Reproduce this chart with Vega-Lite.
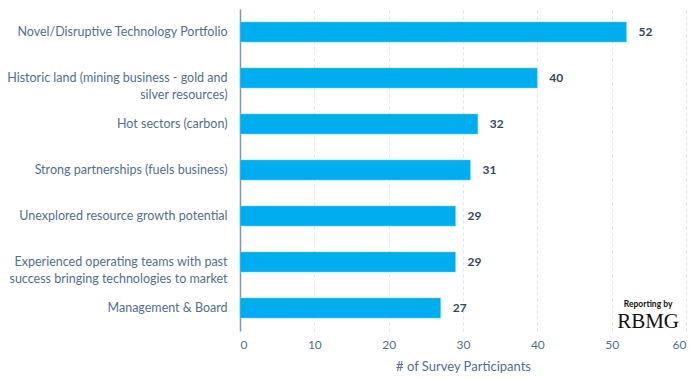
{
  "$schema": "https://vega.github.io/schema/vega-lite/v6.json",
  "width": 446,
  "height": 322,
  "padding": {"left": 6, "right": 8, "top": 9, "bottom": 5},
  "config": {"view": {"stroke": null}, "font": "Lato"},
  "data": {"values": [
    {"factor": "Novel/Disruptive Technology Portfolio", "count": 52},
    {"factor": "Historic land (mining business - gold and|silver resources)", "count": 40},
    {"factor": "Hot sectors (carbon)", "count": 32},
    {"factor": "Strong partnerships (fuels business)", "count": 31},
    {"factor": "Unexplored resource growth potential", "count": 29},
    {"factor": "Experienced operating teams with past|success bringing technologies to market", "count": 29},
    {"factor": "Management & Board", "count": 27}
  ]},
  "encoding": {
    "y": {"field": "factor", "type": "nominal",
      "sort": ["Novel/Disruptive Technology Portfolio", "Historic land (mining business - gold and|silver resources)", "Hot sectors (carbon)", "Strong partnerships (fuels business)", "Unexplored resource growth potential", "Experienced operating teams with past|success bringing technologies to market", "Management & Board"],
      "scale": {"paddingInner": 0.56, "paddingOuter": 0.28},
      "axis": {"title": null, "labelExpr": "split(datum.label, '|')", "labelFontSize": 12.5, "labelColor": "#516f90", "labelPadding": 13, "ticks": false, "domainColor": "#7c98b6", "domainWidth": 1.5, "labelLimit": 300, "labelLineHeight": 17}},
    "x": {"field": "count", "type": "quantitative",
      "scale": {"domain": [0, 60]},
      "axis": {"title": "# of Survey Participants", "titleFontSize": 13, "titleFontWeight": "normal", "titleColor": "#516f90", "titlePadding": 10, "labelFontSize": 12, "labelColor": "#516f90", "labelPadding": 8, "tickCount": 6, "domain": false, "ticks": false, "grid": true, "gridDash": [3, 3], "gridColor": "#dfe3eb"}}
  },
  "layer": [
    {"mark": {"type": "bar", "color": "#00aeef", "stroke": "#7fd6f7", "strokeWidth": 0.5}},
    {"mark": {"type": "text", "align": "left", "dx": 12, "fontWeight": "bold", "fontSize": 12, "color": "#33475b"},
      "encoding": {"text": {"field": "count", "type": "quantitative"}}},
    {"data": {"values": [{"t": "Reporting by", "x": 54.9, "factor": "Management & Board"}]},
      "mark": {"type": "text", "color": "#111111", "baseline": "middle", "fontSize": 8.5, "fontWeight": "bold", "dy": -4},
      "encoding": {
        "x": {"field": "x", "type": "quantitative"},
        "text": {"field": "t"}
      }},
    {"data": {"values": [{"t": "RBMG", "x": 54.9, "factor": "Management & Board"}]},
      "mark": {"type": "text", "color": "#111111", "baseline": "middle", "fontSize": 21, "font": "Liberation Serif", "dy": 14},
      "encoding": {
        "x": {"field": "x", "type": "quantitative"},
        "text": {"field": "t"}
      }}
  ]
}
